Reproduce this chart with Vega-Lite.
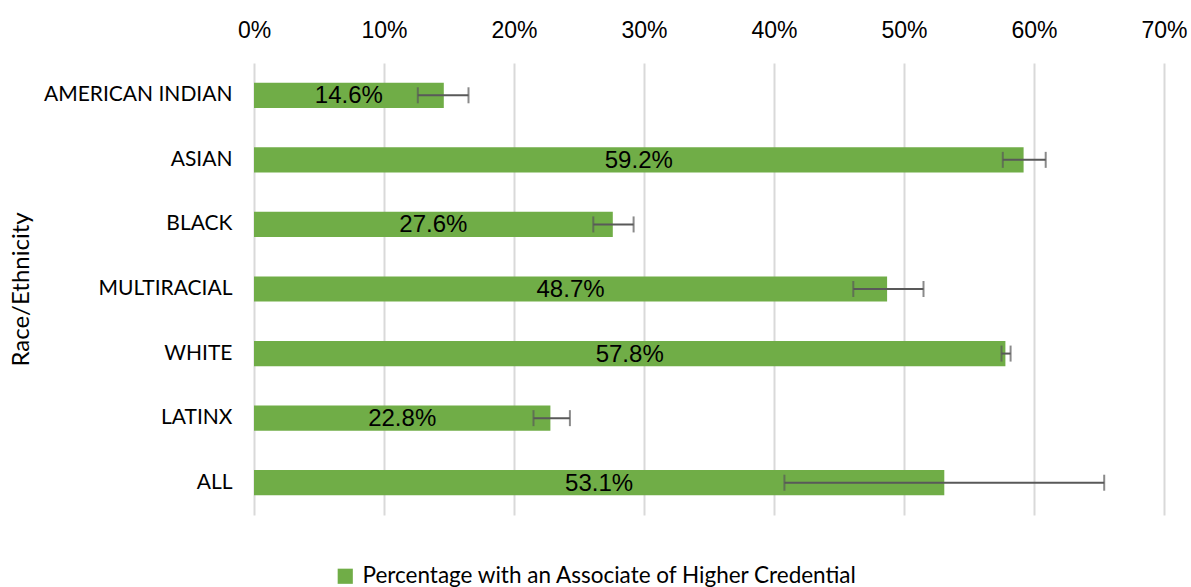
{
  "$schema": "https://vega.github.io/schema/vega-lite/v6.json",
  "autosize": "none",
  "width": 910,
  "height": 452,
  "padding": {"left": 254, "top": 63, "right": 27, "bottom": 72},
  "background": "white",
  "config": {"view": {"stroke": null}},
  "data": {
    "values": [
      {"race": "AMERICAN INDIAN", "pct": 0.146, "lo": 0.126, "hi": 0.165, "series": "Percentage with an Associate of Higher Credential"},
      {"race": "ASIAN", "pct": 0.592, "lo": 0.576, "hi": 0.609, "series": "Percentage with an Associate of Higher Credential"},
      {"race": "BLACK", "pct": 0.276, "lo": 0.261, "hi": 0.292, "series": "Percentage with an Associate of Higher Credential"},
      {"race": "MULTIRACIAL", "pct": 0.487, "lo": 0.461, "hi": 0.515, "series": "Percentage with an Associate of Higher Credential"},
      {"race": "WHITE", "pct": 0.578, "lo": 0.575, "hi": 0.582, "series": "Percentage with an Associate of Higher Credential"},
      {"race": "LATINX", "pct": 0.228, "lo": 0.215, "hi": 0.243, "series": "Percentage with an Associate of Higher Credential"},
      {"race": "ALL", "pct": 0.531, "lo": 0.408, "hi": 0.654, "series": "Percentage with an Associate of Higher Credential"}
    ]
  },
  "encoding": {
    "y": {
      "field": "race", "type": "nominal", "sort": null,
      "scale": {"paddingInner": 0.61, "paddingOuter": 0.305},
      "axis": {
        "title": "Race/Ethnicity", "titleFont": "Lato", "titleFontSize": 24, "titleFontWeight": "normal", "titleColor": "#000000", "titlePadding": 21,
        "labelFont": "Lato", "labelFontSize": 21, "labelColor": "#000000", "labelPadding": 22, "labelLimit": 400,
        "ticks": false, "domain": false, "grid": false
      }
    }
  },
  "layer": [
    {
      "mark": {"type": "bar", "color": "#70AD47"},
      "encoding": {
        "x": {
          "field": "pct", "type": "quantitative",
          "scale": {"domain": [0, 0.7], "nice": false},
          "axis": {
            "orient": "top", "format": "%", "values": [0, 0.1, 0.2, 0.3, 0.4, 0.5, 0.6, 0.7],
            "labelOverlap": false, "labelBound": false, "labelFlush": false,
            "title": null, "labelFont": "Liberation Sans", "labelFontSize": 23, "labelColor": "#000000", "labelPadding": 21,
            "ticks": false, "domain": false, "grid": true, "gridColor": "#d9d9d9", "gridWidth": 2
          }
        },
        "color": {
          "field": "series", "type": "nominal",
          "scale": {"range": ["#70AD47"]},
          "legend": {
            "title": null, "orient": "none", "legendX": 80, "legendY": 502,
            "symbolType": "square", "symbolSize": 230, "symbolStrokeWidth": 0,
            "labelFont": "Lato", "labelFontSize": 22.5, "labelColor": "#000000", "labelLimit": 800, "labelOffset": 6
          }
        }
      }
    },
    {
      "mark": {"type": "text", "font": "Liberation Sans", "fontSize": 24, "color": "#000000", "dy": 1},
      "encoding": {
        "x": {"field": "mid", "type": "quantitative"},
        "text": {"field": "pct", "type": "quantitative", "format": ".1%"}
      },
      "transform": [{"calculate": "datum.pct / 2", "as": "mid"}]
    },
    {
      "mark": {"type": "rule", "color": "#595959", "strokeWidth": 2},
      "encoding": {
        "x": {"field": "lo", "type": "quantitative"},
        "x2": {"field": "hi"}
      }
    },
    {
      "mark": {"type": "tick", "color": "#595959", "thickness": 2, "size": 16},
      "encoding": {"x": {"field": "lo", "type": "quantitative"}}
    },
    {
      "mark": {"type": "tick", "color": "#595959", "thickness": 2, "size": 16},
      "encoding": {"x": {"field": "hi", "type": "quantitative"}}
    }
  ]
}
